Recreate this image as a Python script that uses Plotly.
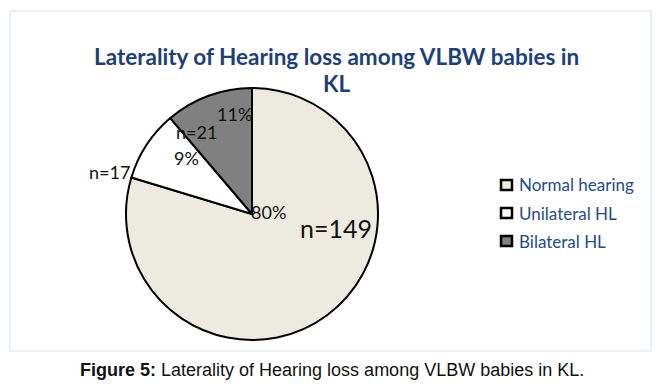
import plotly.graph_objects as go

categories = ["Normal hearing", "Unilateral HL", "Bilateral HL"]
counts = [149, 17, 21]
percent_labels = ["80%", "9%", "11%"]
slice_colors = ["#EDEBE0", "#FFFFFF", "#808080"]
title_lines = ["Laterality of Hearing loss among VLBW babies in", "KL"]
caption_bold = "Figure 5:"
caption_rest = " Laterality of Hearing loss among VLBW babies in KL."

W, H = 665, 390
OFF = 8  # page body margin


def px(x, y):
    return (x - OFF) / W, 1 - (y - OFF) / H


cx, cy, r = 252, 214, 126
x0, y0 = px(cx - r, cy + r)
x1, y1 = px(cx + r, cy - r)

fig = go.Figure()
fig.add_trace(go.Pie(
    labels=categories,
    values=counts,
    sort=False,
    direction="clockwise",
    rotation=0,
    marker=dict(colors=slice_colors, line=dict(color="black", width=2)),
    textinfo="none",
    hoverinfo="label+value+percent",
    showlegend=False,
    domain=dict(x=[x0, x1], y=[y0, y1]),
))

label_font = "Lato, 'Open Sans', sans-serif"
ann = []
count_pos = [(336, 228, 25), (109, 172, 18), (196, 132, 18)]
pct_pos = [(268, 212, 18), (186, 158, 18), (234, 114, 18)]
for i, c in enumerate(counts):
    x, y, s = count_pos[i]
    ax, ay = px(x, y)
    ann.append(dict(x=ax, y=ay, xref="paper", yref="paper", text=f"n={c}",
                    showarrow=False, font=dict(family=label_font, size=s, color="#111111"),
                    xanchor="center", yanchor="middle"))
    x, y, s = pct_pos[i]
    ax, ay = px(x, y)
    ann.append(dict(x=ax, y=ay, xref="paper", yref="paper", text=percent_labels[i],
                    showarrow=False, font=dict(family=label_font, size=s, color="#111111"),
                    xanchor="center", yanchor="middle"))

for i, line in enumerate(title_lines):
    ax, ay = px(336, 56 + 28 * i)
    ann.append(dict(x=ax, y=ay, xref="paper", yref="paper", text=f"<b>{line}</b>",
                    showarrow=False, font=dict(family=label_font, size=22.5, color="#1F3F77"),
                    xanchor="center", yanchor="middle"))

ax, ay = px(332, 370)
ann.append(dict(x=ax, y=ay, xref="paper", yref="paper",
                text=f"<b>{caption_bold}</b>{caption_rest}",
                showarrow=False, font=dict(family="Liberation Sans, Arial, sans-serif", size=18, color="#111111"),
                xanchor="center", yanchor="middle"))

shapes = []
fx0, fy0 = px(10, 351)
fx1, fy1 = px(651, 11)
shapes.append(dict(type="rect", xref="paper", yref="paper", x0=fx0, y0=fy0, x1=fx1, y1=fy1,
                   line=dict(color="#D3E0F0", width=1), fillcolor="rgba(0,0,0,0)", layer="below"))

for i, cat in enumerate(categories):
    ly = 185 + 28 * i
    sx0, sy0 = px(501, ly + 5)
    sx1, sy1 = px(512, ly - 5)
    shapes.append(dict(type="rect", xref="paper", yref="paper", x0=sx0, y0=sy0, x1=sx1, y1=sy1,
                       line=dict(color="black", width=2.5), fillcolor=slice_colors[i]))
    ax, ay = px(517, ly)
    ann.append(dict(x=ax, y=ay, xref="paper", yref="paper", text=cat,
                    showarrow=False, font=dict(family=label_font, size=17, color="#254B8C"),
                    xanchor="left", yanchor="middle"))

fig.update_layout(
    width=W, height=H,
    margin=dict(l=0, r=0, t=0, b=0),
    paper_bgcolor="white",
    plot_bgcolor="white",
    annotations=ann,
    shapes=shapes,
    showlegend=False,
)

fig.write_html("out.html")
